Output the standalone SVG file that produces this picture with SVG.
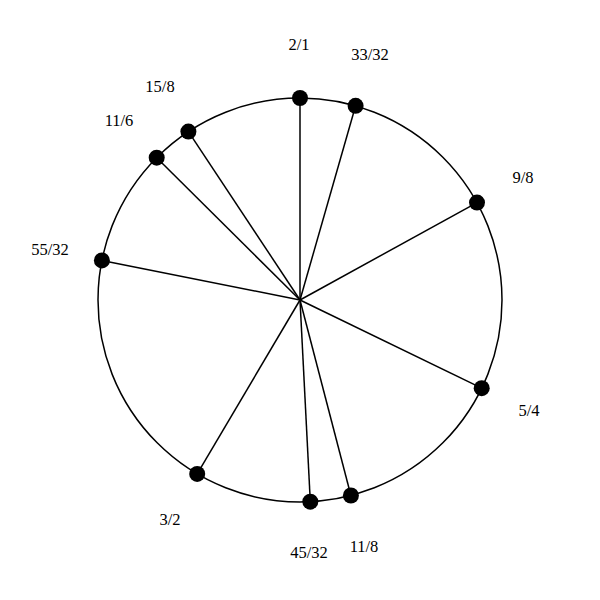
<svg xmlns="http://www.w3.org/2000/svg" width="600" height="600" viewBox="0 0 600 600">
<style>
.ring{fill:none;stroke:#000;stroke-width:1.5}
.spoke{stroke:#000;stroke-width:1.5}
.dot{fill:#000}
.lbl{font-family:"Liberation Serif",serif;font-size:16.5px;fill:#000;text-anchor:middle;dominant-baseline:central}
</style>
<rect width="600" height="600" fill="#fff"/>
<circle class="ring" cx="300" cy="300" r="202"/>
<g id="connectors">
<line class="spoke" x1="300" y1="300" x2="300" y2="98"/>
<line class="spoke" x1="300" y1="300" x2="355.6" y2="105.8"/>
<line class="spoke" x1="300" y1="300" x2="477" y2="202.6"/>
<line class="spoke" x1="300" y1="300" x2="481.7" y2="388.2"/>
<line class="spoke" x1="300" y1="300" x2="350.9" y2="495.5"/>
<line class="spoke" x1="300" y1="300" x2="310.3" y2="501.7"/>
<line class="spoke" x1="300" y1="300" x2="197.2" y2="473.9"/>
<line class="spoke" x1="300" y1="300" x2="101.9" y2="260.4"/>
<line class="spoke" x1="300" y1="300" x2="156.7" y2="157.7"/>
<line class="spoke" x1="300" y1="300" x2="188.4" y2="131.6"/>
</g>
<g id="n-2-1"><circle class="dot" cx="300" cy="98" r="8"/><text class="lbl" x="299" y="44">2/1</text></g>
<g id="n-33-32"><circle class="dot" cx="355.6" cy="105.8" r="8"/><text class="lbl" x="370" y="54">33/32</text></g>
<g id="n-9-8"><circle class="dot" cx="477" cy="202.6" r="8"/><text class="lbl" x="523" y="177">9/8</text></g>
<g id="n-5-4"><circle class="dot" cx="481.7" cy="388.2" r="8"/><text class="lbl" x="529" y="410">5/4</text></g>
<g id="n-11-8"><circle class="dot" cx="350.9" cy="495.5" r="8"/><text class="lbl" x="364" y="546">11/8</text></g>
<g id="n-45-32"><circle class="dot" cx="310.3" cy="501.7" r="8"/><text class="lbl" x="309" y="552">45/32</text></g>
<g id="n-3-2"><circle class="dot" cx="197.2" cy="473.9" r="8"/><text class="lbl" x="170" y="519">3/2</text></g>
<g id="n-55-32"><circle class="dot" cx="101.9" cy="260.4" r="8"/><text class="lbl" x="50" y="249">55/32</text></g>
<g id="n-11-6"><circle class="dot" cx="156.7" cy="157.7" r="8"/><text class="lbl" x="119" y="120">11/6</text></g>
<g id="n-15-8"><circle class="dot" cx="188.4" cy="131.6" r="8"/><text class="lbl" x="160" y="86">15/8</text></g>
</svg>
